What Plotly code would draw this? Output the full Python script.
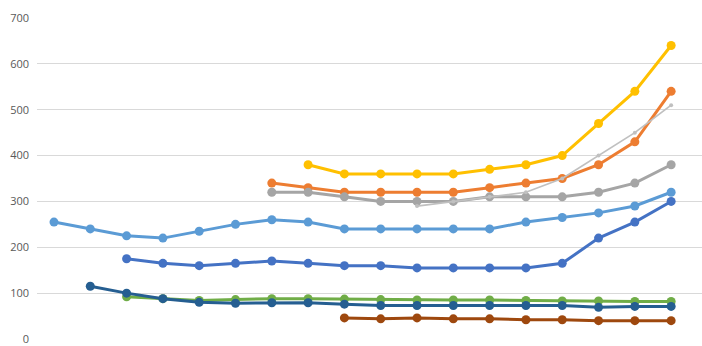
import plotly.graph_objects as go

N = 18
x_idx = list(range(N))
_ = None

light_blue = [255, 240, 225, 220, 235, 250, 260, 255, 240, 240, 240, 240, 240, 255, 265, 275, 290, 320]
blue       = [_, _, 175, 165, 160, 165, 170, 165, 160, 160, 155, 155, 155, 155, 165, 220, 255, 300]
yellow     = [_, _, _, _, _, _, _, 380, 360, 360, 360, 360, 370, 380, 400, 470, 540, 640]
orange     = [_, _, _, _, _, _, 340, 330, 320, 320, 320, 320, 330, 340, 350, 380, 430, 540]
gray       = [_, _, _, _, _, _, 320, 320, 310, 300, 300, 300, 310, 310, 310, 320, 340, 380]
thin_gray  = [_, _, _, _, _, _, _, _, _, _, 290, 300, 310, 320, 350, 400, 450, 510]
green      = [_, _, 92, 88, 84, 86, 88, 88, 87, 86, 85, 85, 85, 84, 83, 83, 82, 82]
dark_blue  = [_, 115, 100, 88, 80, 78, 79, 79, 76, 73, 73, 73, 73, 73, 73, 69, 71, 71]
brown      = [_, _, _, _, _, _, _, _, 46, 44, 46, 44, 44, 42, 42, 40, 40, 40]

series = [
    ("s1", light_blue, "#5B9BD5", 3, 9),
    ("s2", blue, "#4472C4", 3, 9),
    ("s3", orange, "#ED7D31", 3, 9),
    ("s4", gray, "#A5A5A5", 3, 9),
    ("s5", yellow, "#FFC000", 3, 9),
    ("s6", thin_gray, "#C0C0C0", 1.75, 4),
    ("s7", green, "#70AD47", 3, 9),
    ("s8", dark_blue, "#255E91", 3, 9),
    ("s9", brown, "#9E480E", 3, 9),
]

fig = go.Figure()
for name, vals, color, w, ms in series:
    fig.add_trace(go.Scatter(
        x=x_idx, y=vals, name=name, mode="lines+markers",
        line=dict(color=color, width=w),
        marker=dict(color=color, size=ms),
        connectgaps=False,
    ))

fig.update_layout(
    width=702, height=346,
    margin=dict(l=37, r=0, t=18, b=7),
    paper_bgcolor="white", plot_bgcolor="white",
    showlegend=False,
    font=dict(family="Open Sans, sans-serif", size=11, color="#595959"),
)
fig.update_xaxes(range=[-0.468, 17.85], showgrid=False, showticklabels=False,
                 zeroline=False, showline=False, ticks="")
fig.update_yaxes(range=[0, 700], dtick=100, showgrid=True, gridcolor="#D9D9D9",
                 gridwidth=1, zeroline=False, showline=False, ticks="",
                 ticklabelstandoff=7)

fig.write_html("out.html")
